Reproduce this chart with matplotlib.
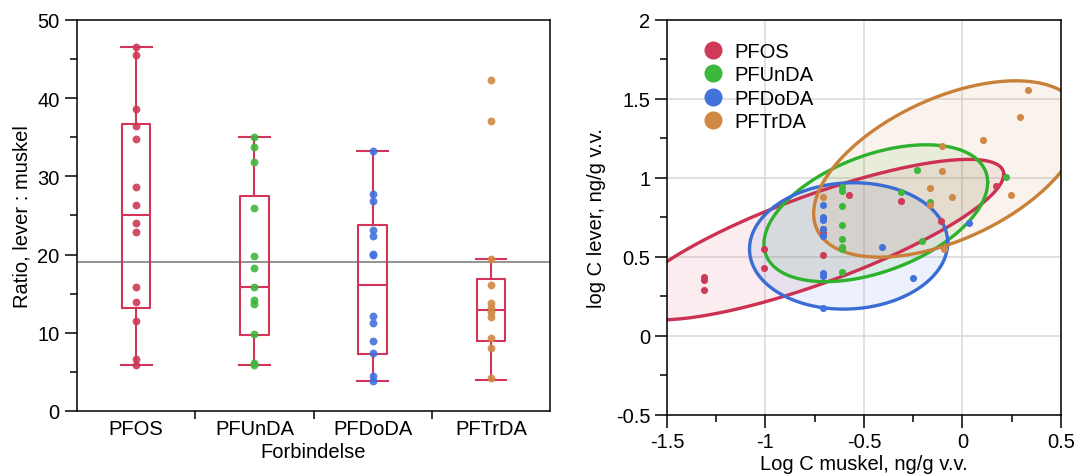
import matplotlib.pyplot as plt
import numpy as np
from matplotlib.lines import Line2D
from matplotlib.ticker import MultipleLocator

plt.rcParams['font.family'] = ['Liberation Sans', 'DejaVu Sans']

compounds = ['PFOS', 'PFUnDA', 'PFDoDA', 'PFTrDA']
line_cols = ['#cc3152', '#2eb22e', '#3a6cd6', '#c98038']
dot_cols = ['#cf3a56', '#3cb83c', '#4272dc', '#d08845']
box_col = '#d3345a'

# ratio lever : muskel, per compound
ratio_pfos = [46.6, 45.5, 38.6, 36.4, 34.8, 28.6, 26.3, 24.0, 22.9, 15.8, 14.0, 11.5, 6.6, 5.9]
ratio_pfunda = [35.1, 33.7, 31.8, 26.0, 19.8, 18.3, 15.9, 14.2, 13.7, 9.8, 6.1, 5.9]
ratio_pfdoda = [33.3, 27.8, 26.8, 23.2, 22.4, 20.1, 19.9, 12.1, 11.2, 8.9, 7.4, 4.5, 3.8]
ratio_pftrda = [42.3, 37.1, 19.4, 16.1, 13.8, 13.2, 12.7, 12.0, 9.3, 8.1, 4.2]

# box statistics (as shown)
whislo = [5.9, 5.9, 3.8, 4.0]
q1 = [13.2, 9.7, 7.3, 8.9]
med = [25.0, 15.9, 16.1, 12.9]
q3 = [36.7, 27.5, 23.8, 16.9]
whishi = [46.6, 35.0, 33.3, 19.4]
ref_line = 19.0

# log C muskel / log C lever
pfos_x = [-1.31, -1.31, -1.31, -1.01, -1.01, -0.71, -0.71, -0.71, -0.576, -0.31, -0.11, 0.17]
pfos_y = [0.373, 0.355, 0.29, 0.55, 0.43, 0.51, 0.68, 0.65, 0.895, 0.855, 0.725, 0.95]
pfunda_x = [-0.614, -0.614, -0.614, -0.614, -0.614, -0.614, -0.614, -0.614, -0.31, -0.229, -0.163, -0.203, 0.22]
pfunda_y = [0.943, 0.915, 0.822, 0.704, 0.615, 0.562, 0.55, 0.403, 0.91, 1.05, 0.848, 0.604, 1.005]
pfdoda_x = [-0.71, -0.71, -0.71, -0.71, -0.71, -0.71, -0.71, -0.71, -0.41, -0.25, 0.035]
pfdoda_y = [0.83, 0.753, 0.737, 0.678, 0.632, 0.399, 0.378, 0.18, 0.566, 0.37, 0.716]
pftrda_x = [0.334, 0.293, 0.105, -0.105, -0.105, -0.163, -0.055, 0.246, -0.163, -0.093, -0.71]
pftrda_y = [1.557, 1.388, 1.24, 1.204, 1.043, 0.939, 0.88, 0.895, 0.827, 0.551, 0.88]

# bivariate normal density ellipses (95 %)
ell_mx = [-0.75, -0.44, -0.578, -0.075]
ell_my = [0.61, 0.777, 0.57, 1.057]
ell_sx = [0.392, 0.232, 0.2055, 0.278]
ell_sy = [0.2075, 0.177, 0.1634, 0.228]
ell_r = [0.813, 0.45, 0.05, 0.507]

ratios = [ratio_pfos, ratio_pfunda, ratio_pfdoda, ratio_pftrda]
xs = [pfos_x, pfunda_x, pfdoda_x, pftrda_x]
ys = [pfos_y, pfunda_y, pfdoda_y, pftrda_y]

fs = 14.5
fig = plt.figure(figsize=(10.77, 4.77), dpi=100)

# ---- left: box plots
ax1 = fig.add_axes([0.0715, 0.1363, 0.4392, 0.8197])
ax1.axhline(ref_line, color='#8a8a8a', lw=1.3, zorder=1)
stats = []
for i in range(4):
    stats.append(dict(whislo=whislo[i], q1=q1[i], med=med[i], q3=q3[i], whishi=whishi[i], fliers=[]))
ax1.bxp(stats, positions=range(4), widths=0.24, showfliers=False,
        boxprops=dict(color=box_col, lw=1.5), medianprops=dict(color=box_col, lw=1.5),
        whiskerprops=dict(color=box_col, lw=1.5), capprops=dict(color=box_col, lw=1.5),
        capwidths=0.26, zorder=2)
for i in range(4):
    ax1.scatter([i] * len(ratios[i]), ratios[i], s=32, color=dot_cols[i], zorder=3,
                alpha=0.9, linewidths=0)
ax1.set_xlim(-0.5, 3.5)
ax1.set_ylim(0, 50)
ax1.set_xticks(range(4))
ax1.set_xticklabels(compounds, fontsize=fs)
ax1.set_xticks([0.5, 1.5, 2.5], minor=True)
ax1.tick_params(axis='x', which='major', length=0, pad=6)
ax1.tick_params(axis='x', which='minor', length=6, width=1.1, direction='out')
ax1.yaxis.set_major_locator(MultipleLocator(10))
ax1.yaxis.set_minor_locator(MultipleLocator(5))
ax1.tick_params(axis='y', which='major', length=9, width=1.1, labelsize=fs)
ax1.tick_params(axis='y', which='minor', length=5, width=1.1)
ax1.set_ylabel('Ratio, lever : muskel', fontsize=fs)
ax1.set_xlabel('Forbindelse', fontsize=fs)
ax1.yaxis.set_label_coords(-0.097, 0.5)
ax1.xaxis.set_label_coords(0.5, -0.08)
for sp in ax1.spines.values():
    sp.set_linewidth(1.1)

# ---- right: scatter with density ellipses
ax2 = fig.add_axes([0.6193, 0.1279, 0.3658, 0.8281])
k = np.sqrt(-2 * np.log(0.05))
t = np.linspace(0, 2 * np.pi, 300)
for i in range(4):
    ex = ell_mx[i] + k * ell_sx[i] * np.cos(t)
    ey = ell_my[i] + k * ell_sy[i] * (ell_r[i] * np.cos(t) + np.sqrt(1 - ell_r[i] ** 2) * np.sin(t))
    ax2.fill(ex, ey, color=line_cols[i], alpha=0.09, lw=0, zorder=1)
    ax2.plot(ex, ey, color=line_cols[i], lw=2.4, zorder=2)
for i in range(4):
    ax2.scatter(xs[i], ys[i], s=26, color=dot_cols[i], zorder=3, linewidths=0)
ax2.set_xlim(-1.5, 0.5)
ax2.set_ylim(-0.5, 2)
ax2.xaxis.set_major_locator(MultipleLocator(0.5))
ax2.xaxis.set_minor_locator(MultipleLocator(0.25))
ax2.yaxis.set_major_locator(MultipleLocator(0.5))
ax2.yaxis.set_minor_locator(MultipleLocator(0.25))
ax2.xaxis.set_major_formatter(lambda v, p: ('%g' % v))
ax2.yaxis.set_major_formatter(lambda v, p: ('%g' % v))
ax2.grid(True, which='major', color='#dcdcdc', lw=1.2, zorder=0)
ax2.set_axisbelow(True)
ax2.tick_params(which='major', length=9, width=1.1, labelsize=fs, pad=3)
ax2.tick_params(which='minor', length=5, width=1.1)
ax2.set_xlabel('Log C muskel, ng/g v.v.', fontsize=fs)
ax2.set_ylabel('log C lever, ng/g v.v.', fontsize=fs)
ax2.yaxis.set_label_coords(-0.155, 0.5)
ax2.xaxis.set_label_coords(0.5, -0.098)
for sp in ax2.spines.values():
    sp.set_linewidth(1.1)

handles = [Line2D([], [], ls='none', marker='o', ms=13, color=c, mec='none') for c in dot_cols]
ax2.legend(handles, compounds, loc='upper left', bbox_to_anchor=(0.09, 0.945), frameon=False,
           fontsize=fs, handlelength=1.0, handletextpad=0.6, labelspacing=0.22,
           borderpad=0, borderaxespad=0)

fig.savefig('out.png', dpi=100)
